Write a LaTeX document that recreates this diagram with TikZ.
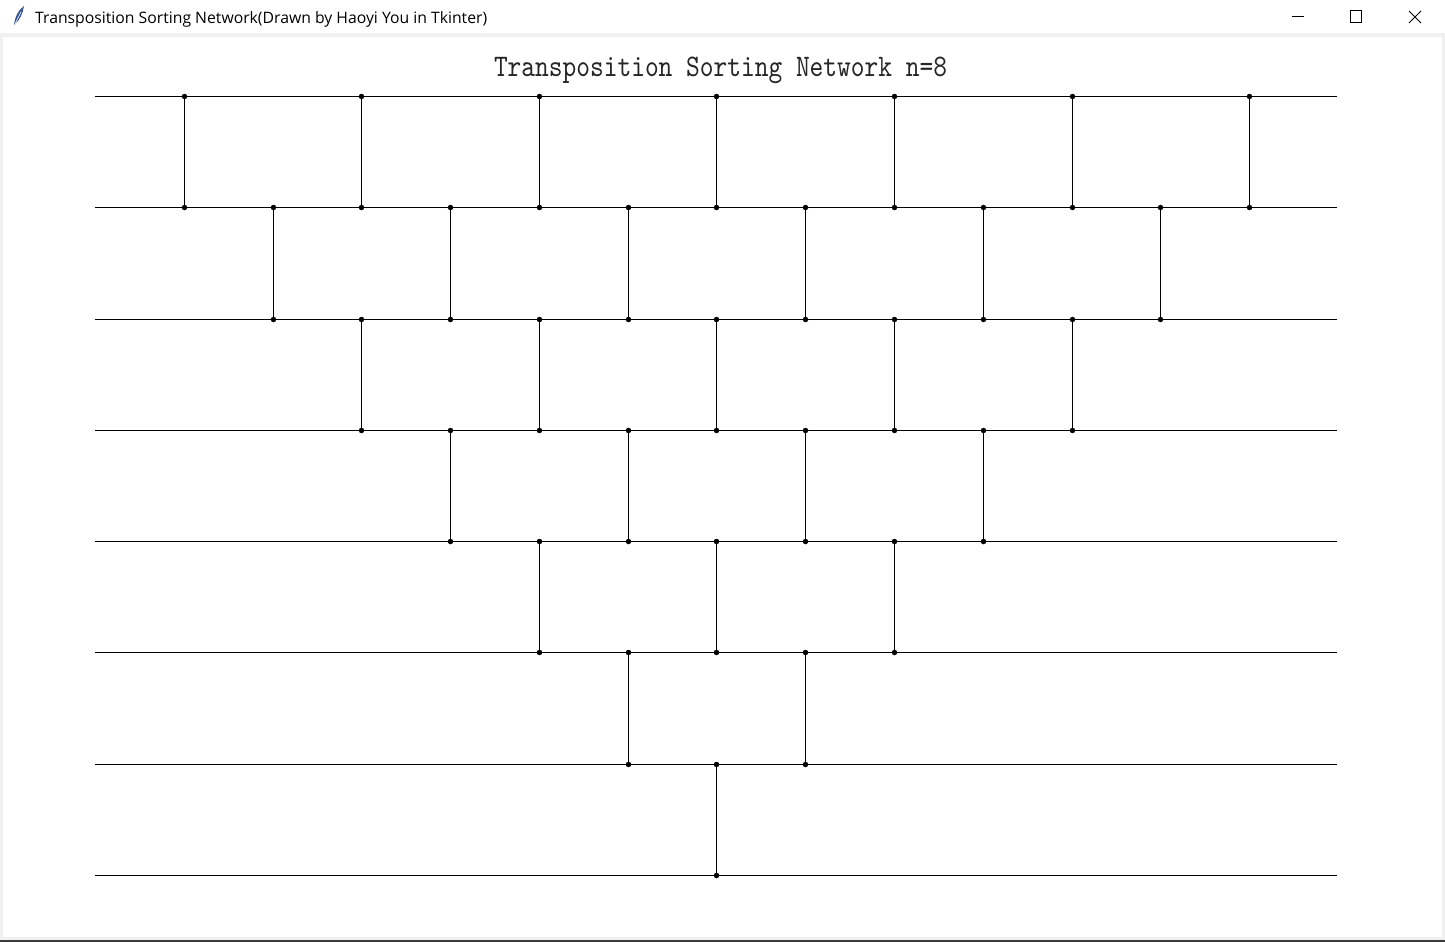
\documentclass[tikz,border=0pt]{standalone}
\usepackage{fontspec}
\newfontfamily\barfont{Open Sans}
\usetikzlibrary{calc}
\definecolor{frame}{HTML}{F0F0F0}
\definecolor{taskbar}{HTML}{3A3A40}
\definecolor{feather}{HTML}{3C5A9A}
\tikzset{
  wire/.style={line width=1.25pt, black},
  comp/.style={line width=1.25pt, black},
  dot/.style={circle, fill=black, inner sep=0pt, minimum size=5.5pt},
  ctrl/.style={line width=1pt, black},
}
\def\ys{{96.5,207.5,319.5,430.5,541.5,652.5,764.5,875.5}}
\def\xs{{184.5,273.5,361.5,450.5,539.5,628.5,716.5,805.5,894.5,983.5,1072.5,1160.5,1249.5}}
\begin{document}
\begin{tikzpicture}[x=1pt, y=-1pt]
  % window background and frame
  \fill[frame] (0,0) rectangle (1445,942);
  \fill[white] (0,0) rectangle (1445,33);
  \fill[white] (3,37) rectangle (1442,937);
  \fill[taskbar] (0,940) rectangle (1445,942);
  \useasboundingbox (0,0) rectangle (1445,942);
  % title bar
  \fill[feather] (14,25) .. controls (15,17) and (18,10) .. (24,6)
        .. controls (23,13) and (20,20) .. (15,24) -- cycle;
  \draw[white, line width=0.5pt] (15,24) -- (21,12);
  \node[anchor=west, inner sep=0pt] (wintitle) at (35,19)
    {\resizebox{452pt}{!}{\barfont Transposition Sorting Network(Drawn by Haoyi You in Tkinter)}};
  \coordinate (minL) at (1292,16.5);
  \coordinate (minR) at (1304,16.5);
  \draw[ctrl] (minL) -- (minR);
  \coordinate (maxA) at (1350.5,11);
  \coordinate (maxB) at (1361.5,22.5);
  \draw[ctrl] (maxA) rectangle (maxB);
  \coordinate (xA) at (1409,11);
  \coordinate (xB) at (1421,23);
  \coordinate (xC) at (1421,11);
  \coordinate (xD) at (1409,23);
  \draw[ctrl] (xA) -- (xB);
  \draw[ctrl] (xC) -- (xD);
  % canvas title
  \node[inner sep=0pt] (title) at (720.5,70.5)
    {\scalebox{1}[1.2]{\resizebox{453pt}{!}{\ttfamily\color{black!85} Transposition Sorting Network n=8}}};
  % wires
  \foreach \i in {0,...,7}{
    \pgfmathsetmacro\yy{\ys[\i]}
    \coordinate (wL-\i) at (95, \yy);
    \coordinate (wR-\i) at (1337, \yy);
    \draw[wire] (wL-\i) -- (wR-\i);
  }
  % comparators
  \foreach \i in {0,...,6}{
    \pgfmathtruncatemacro\kmax{6-\i}
    \pgfmathtruncatemacro\ii{\i+1}
    \pgfmathsetmacro\ya{\ys[\i]}
    \pgfmathsetmacro\yb{\ys[\ii]}
    \foreach \k in {0,...,\kmax}{
      \pgfmathtruncatemacro\j{\i+2*\k}
      \pgfmathsetmacro\xx{\xs[\j]}
      \node[dot] (t-\i-\j) at (\xx, \ya) {};
      \node[dot] (b-\i-\j) at (\xx, \yb) {};
      \draw[comp] (t-\i-\j.center) -- (b-\i-\j.center);
    }
  }
\end{tikzpicture}
\end{document}
